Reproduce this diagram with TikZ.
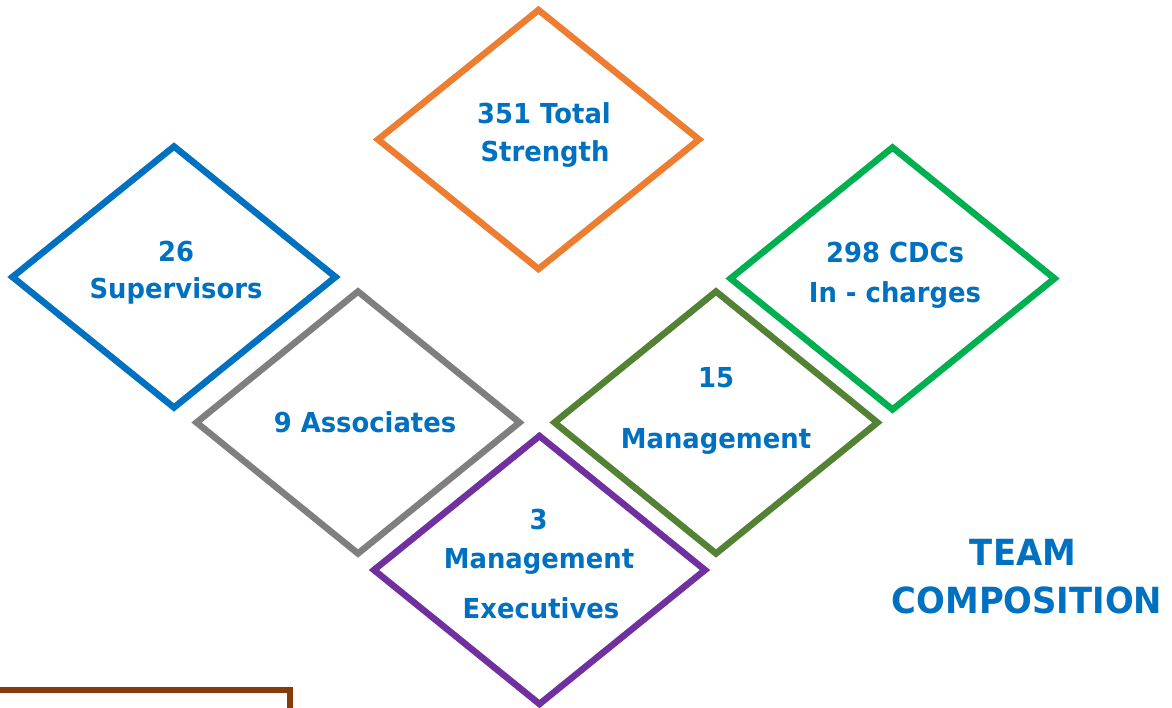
\documentclass[tikz,border=0pt]{standalone}
\usepackage{fontspec}
\newfontfamily\lblfont{DejaVu Sans}[FakeStretch=0.94]
\usetikzlibrary{shapes.geometric}
\definecolor{txtblue}{HTML}{0070C0}
\definecolor{cOrange}{HTML}{ED7D31}
\definecolor{cBlue}{HTML}{0070C0}
\definecolor{cGray}{HTML}{7F7F7F}
\definecolor{cGreen}{HTML}{00B050}
\definecolor{cDkGreen}{HTML}{548235}
\definecolor{cPurple}{HTML}{7030A0}
\definecolor{cBrown}{HTML}{843C0C}
\begin{document}
\begin{tikzpicture}[x=1pt,y=-1pt,
  box/.style={diamond, draw=#1, line width=6.5pt, inner sep=0pt, outer sep=0pt},
  lbl/.style={font=\lblfont\bfseries\fontsize{27.5}{30}\selectfont, text=txtblue, anchor=base, inner sep=0pt},
  title/.style={font=\lblfont\bfseries\fontsize{36}{40}\selectfont, text=txtblue, anchor=base, inner sep=0pt},
  frameline/.style={draw=cBrown, line width=6pt}]
\useasboundingbox (0,0) rectangle (1172,708);
% diamonds
\node[box=cOrange, minimum width=321pt, minimum height=259pt] (total) at (538.5,139.5) {};
\node[box=cBlue, minimum width=323pt, minimum height=261pt] (sup) at (174,277) {};
\node[box=cGray, minimum width=323pt, minimum height=262pt] (assoc) at (358,422.5) {};
\node[box=cPurple, minimum width=331pt, minimum height=268pt] (mexec) at (539.5,570) {};
\node[box=cDkGreen, minimum width=323pt, minimum height=262pt] (mgmt) at (716,422.5) {};
\node[box=cGreen, minimum width=324pt, minimum height=262pt] (cdc) at (892.5,278.5) {};
% labels
\node[lbl] (totalA) at (544,124) {351 Total};
\node[lbl] (totalB) at (545,162) {Strength};
\node[lbl] (supA) at (176,262) {26};
\node[lbl] (supB) at (176,299) {Supervisors};
\node[lbl] (assocA) at (365,432) {9 Associates};
\node[lbl] (mgmtA) at (716,387) {15};
\node[lbl] (mgmtB) at (716,448) {Management};
\node[lbl] (mexecA) at (538.5,529) {3};
\node[lbl] (mexecB) at (539,568) {Management};
\node[lbl] (mexecC) at (541,618) {Executives};
\node[lbl] (cdcA) at (895,263) {298 CDCs};
\node[lbl] (cdcB) at (895,303) {In - charges};
\node[title] (teamA) at (1023,565) {TEAM};
\node[title] (teamB) at (1027,613) {COMPOSITION};
% brown frame corner
\coordinate (f1) at (-6,689.5);
\coordinate (f2) at (289.5,689.5);
\coordinate (f3) at (289.5,716);
\draw[frameline] (f1) -- (f2) -- (f3);
\end{tikzpicture}
\end{document}
